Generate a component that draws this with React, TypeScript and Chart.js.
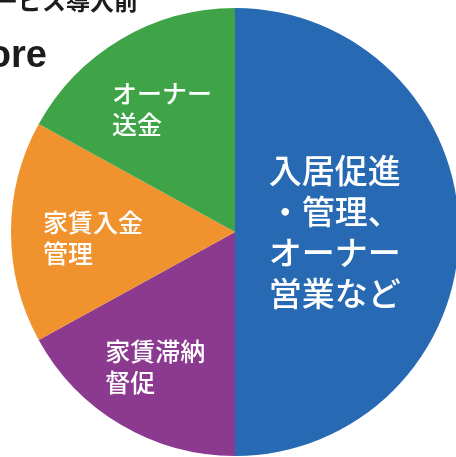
import React, { useEffect, useRef } from "react";
import { Chart, registerables } from "chart.js";

Chart.register(...registerables);

const categories = [
  "入居促進・管理、オーナー営業など",
  "家賃滞納督促",
  "家賃入金管理",
  "オーナー送金",
];
const shares = [50, 17, 16, 17];
const labelLines = [
  ["入居促進", "・管理、", "オーナー", "営業など"],
  ["家賃滞納", "督促"],
  ["家賃入金", "管理"],
  ["オーナー", "送金"],
];
const colors = ["#2769B2", "#8C3A8F", "#F0932F", "#3EA447"];
const headerTitle = "サービス導入前";
const headerSub = "Before";

const labelRadius = [0.445, 0.7, 0.635, 0.64];
const labelAngleOffsetDeg = [0, 0, -2.5, 0];
const labelFont = [33, 25, 25, 25];
const labelLineHeight = [41, 31, 31, 31];

const labelPlugin = {
  id: "sliceLabels",
  afterDatasetsDraw(chart: any) {
    const ctx = chart.ctx;
    const meta = chart.getDatasetMeta(0);
    meta.data.forEach((arc: any, i: number) => {
      const { x, y, startAngle, endAngle, outerRadius } = arc.getProps(
        ["x", "y", "startAngle", "endAngle", "outerRadius"],
        true
      );
      const mid = (startAngle + endAngle) / 2 + (labelAngleOffsetDeg[i] * Math.PI) / 180;
      const r = outerRadius * labelRadius[i];
      const cx = x + Math.cos(mid) * r;
      const cy = y + Math.sin(mid) * r;
      const lines = labelLines[i];
      ctx.save();
      ctx.font = `500 ${labelFont[i]}px "Noto Sans CJK JP"`;
      ctx.fillStyle = "#ffffff";
      ctx.textAlign = "left";
      ctx.textBaseline = "middle";
      const w = Math.max(...lines.map((l) => ctx.measureText(l).width));
      const lh = labelLineHeight[i];
      const top = cy - ((lines.length - 1) * lh) / 2;
      lines.forEach((l, k) => ctx.fillText(l, cx - w / 2, top + k * lh));
      ctx.restore();
    });
  },
};

const headerPlugin = {
  id: "header",
  afterDraw(chart: any) {
    const ctx = chart.ctx;
    ctx.save();
    ctx.fillStyle = "#1c1c1c";
    ctx.textAlign = "right";
    ctx.textBaseline = "alphabetic";
    ctx.font = 'bold 24px "Noto Sans CJK JP"';
    ctx.fillText(headerTitle, 138, 10);
    ctx.font = 'bold 38px "Liberation Sans"';
    ctx.fillText(headerSub, 47, 67);
    ctx.restore();
  },
};

export default function App() {
  const ref = useRef<HTMLCanvasElement>(null);
  useEffect(() => {
    if (!ref.current) return;
    const chart = new Chart(ref.current, {
      type: "pie",
      data: {
        labels: categories,
        datasets: [
          {
            data: shares,
            backgroundColor: colors,
            borderWidth: 0,
          },
        ],
      },
      options: {
        animation: false,
        responsive: false,
        layout: { padding: { left: 11, top: 8, right: 1, bottom: 4 } },
        plugins: {
          legend: { display: false },
          tooltip: { enabled: false },
        },
      },
      plugins: [labelPlugin, headerPlugin],
    });
    return () => chart.destroy();
  }, []);
  return (
    <div
      style={{
        position: "fixed",
        left: 0,
        top: 0,
        width: 456,
        height: 457,
        overflow: "hidden",
        background: "#ffffff",
      }}
    >
      <canvas
        ref={ref}
        width={460}
        height={460}
        style={{ width: 460, height: 460, display: "block" }}
      />
    </div>
  );
}
